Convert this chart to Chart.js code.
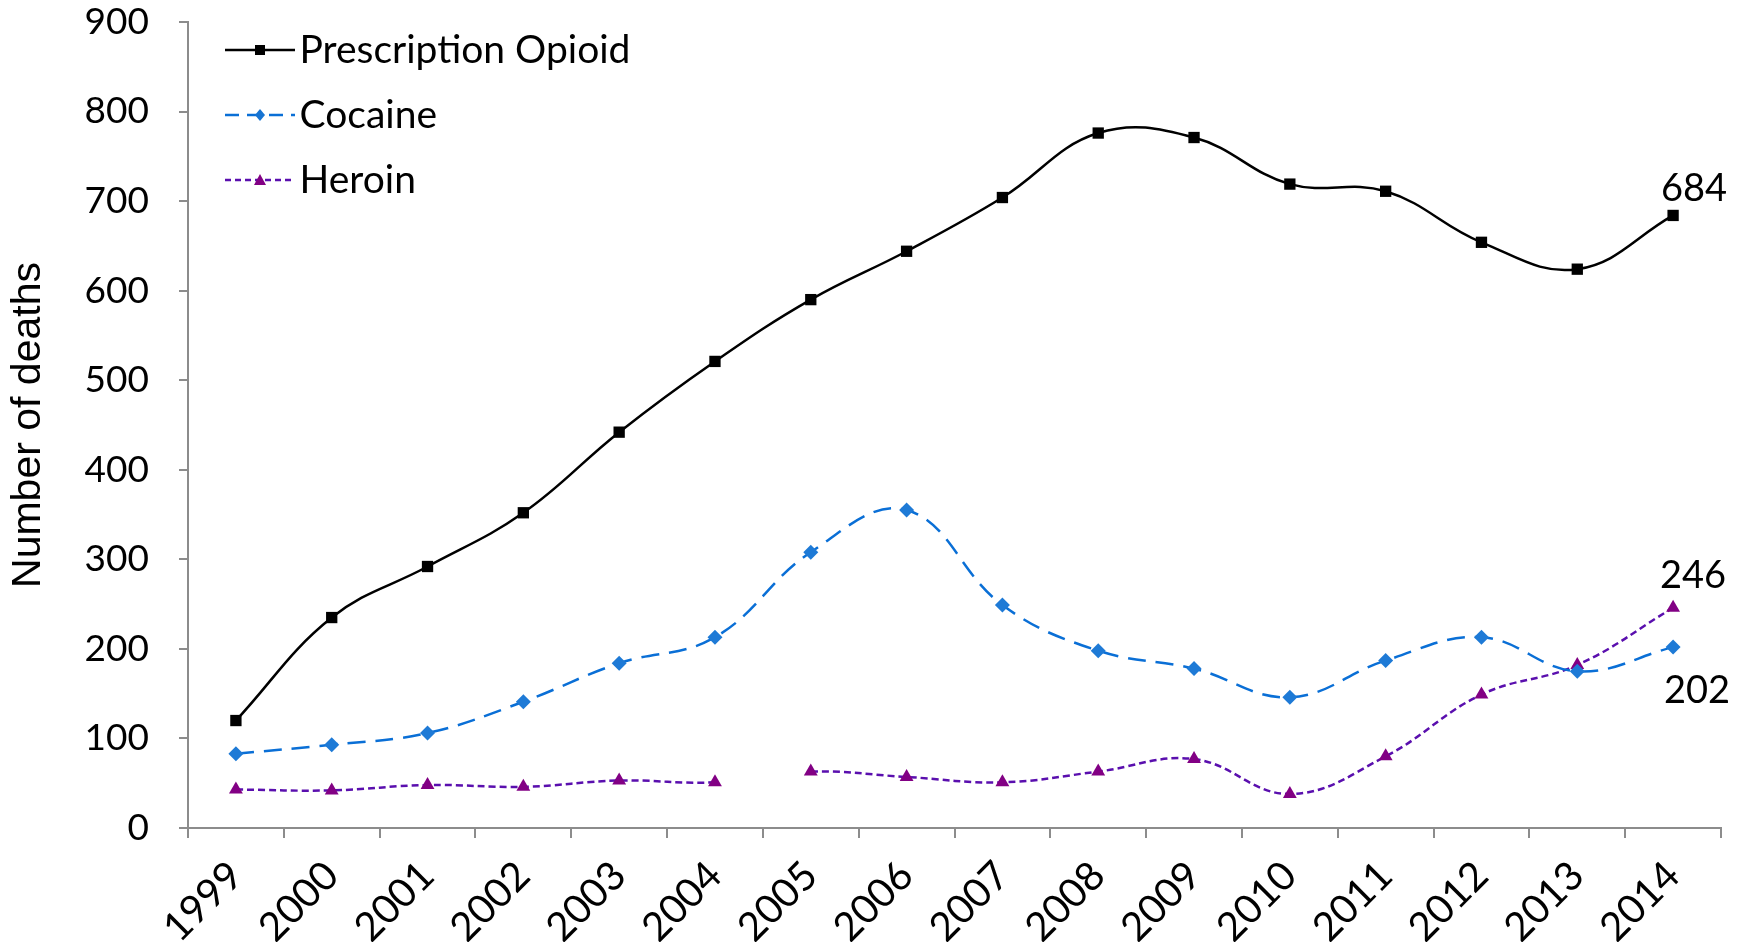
<!DOCTYPE html>
<html>
<head>
<meta charset="utf-8">
<title>Number of deaths, 1999-2014</title>
<script src="https://cdn.jsdelivr.net/npm/chart.js@4"></script>
<style>
  body { margin: 0; background: #fff; }
</style>
</head>
<body>
<canvas id="deathsChart" width="1738" height="942"></canvas>
<script>
const years = ['1999', '2000', '2001', '2002', '2003', '2004', '2005', '2006',
               '2007', '2008', '2009', '2010', '2011', '2012', '2013', '2014'];
const opioid  = [120, 235, 292, 352, 442, 521, 590, 644, 704, 776, 771, 719, 711, 654, 624, 684];
const cocaine = [83, 93, 106, 141, 184, 213, 308, 355, 249, 198, 178, 146, 187, 213, 175, 202];
const heroin  = [43, 42, 48, 46, 53, 51, 63, 57, 51, 63, 77, 38, 80, 149, 182, 246];
const yMax = 900;
const yStep = 100;
// heroin line is not drawn between 2004 and 2005
const heroinGapAfter = 5;

const font = 'Lato';

// legend sample: a bit of line with the marker in the middle
function legendSample(color, dash, width, marker) {
  const c = document.createElement('canvas');
  c.width = 96; c.height = 22;
  const g = c.getContext('2d');
  g.strokeStyle = color;
  g.lineWidth = width;
  g.setLineDash(dash);
  g.beginPath();
  g.moveTo(26, 11);
  g.lineTo(96, 11);
  g.stroke();
  g.setLineDash([]);
  marker(g, 61, 11);
  return c;
}

const samples = [
  legendSample('#000', [], 2.5, (g, x, y) => { g.fillStyle = '#000'; g.fillRect(x - 5, y - 5, 10, 10); }),
  legendSample('#0a6fd6', [14, 8], 2.5, (g, x, y) => {
    g.fillStyle = '#1774d2';
    g.beginPath(); g.moveTo(x, y - 6); g.lineTo(x + 5, y); g.lineTo(x, y + 6); g.lineTo(x - 5, y); g.fill();
  }),
  legendSample('#5a0fae', [6, 4], 2.5, (g, x, y) => {
    g.fillStyle = '#820084';
    g.beginPath(); g.moveTo(x, y - 6); g.lineTo(x + 6, y + 5); g.lineTo(x - 6, y + 5); g.fill();
  })
];

const endLabels = {
  id: 'endLabels',
  afterDatasetsDraw(chart) {
    const ctx = chart.ctx;
    const specs = [
      { ds: 0, dx: 21, dy: -14 },
      { ds: 2, dx: 20, dy: -20 },
      { ds: 1, dx: 24, dy: 56 }
    ];
    ctx.save();
    ctx.font = '38px ' + font;
    ctx.fillStyle = '#000';
    ctx.textAlign = 'center';
    ctx.textBaseline = 'alphabetic';
    specs.forEach(s => {
      const meta = chart.getDatasetMeta(s.ds);
      const last = meta.data.length - 1;
      const pt = meta.data[last];
      const value = chart.data.datasets[s.ds].data[last];
      ctx.fillText(String(value), pt.x + s.dx, pt.y + s.dy);
    });
    ctx.restore();
  }
};

new Chart(document.getElementById('deathsChart'), {
  type: 'line',
  data: {
    labels: years,
    datasets: [
      {
        label: 'Prescription Opioid',
        data: opioid,
        borderColor: '#000',
        backgroundColor: '#000',
        borderWidth: 2.5,
        tension: 0.4,
        pointStyle: 'rect',
        pointRadius: 8,
        pointBorderWidth: 0
      },
      {
        label: 'Cocaine',
        data: cocaine,
        borderColor: '#0a6fd6',
        backgroundColor: '#1e7ad6',
        borderWidth: 2.5,
        borderDash: [18, 10],
        tension: 0.4,
        pointStyle: 'rectRot',
        pointRadius: 7.5,
        pointBorderWidth: 0
      },
      {
        label: 'Heroin',
        data: heroin,
        borderColor: '#5a0fae',
        backgroundColor: '#820084',
        borderWidth: 2.5,
        borderDash: [7, 4],
        tension: 0.4,
        pointStyle: 'triangle',
        pointRadius: 8,
        pointBorderWidth: 0,
        segment: {
          borderColor: c => c.p0DataIndex === heroinGapAfter ? 'rgba(0,0,0,0)' : undefined
        }
      }
    ]
  },
  options: {
    responsive: false,
    animation: false,
    layout: {
      padding: { left: 0, top: 22, right: 17, bottom: 0 }
    },
    plugins: {
      legend: {
        position: 'chartArea',
        align: 'start',
        title: {
          display: true,
          text: ' ',
          padding: 0,
          font: { size: 4.5, lineHeight: 1 }
        },
        labels: {
          usePointStyle: true,
          pointStyleWidth: 66,
          padding: 26,
          color: '#000',
          font: { family: font, size: 39 },
          generateLabels(chart) {
            return chart.data.datasets.map((ds, i) => ({
              text: ds.label,
              pointStyle: samples[i],
              fillStyle: ds.backgroundColor,
              strokeStyle: ds.borderColor,
              lineWidth: 0,
              fontColor: '#000',
              hidden: false,
              datasetIndex: i
            }));
          }
        }
      },
      tooltip: { enabled: false }
    },
    scales: {
      x: {
        offset: true,
        grid: {
          offset: true,
          drawOnChartArea: false,
          drawTicks: true,
          tickLength: 10,
          color: '#8c8c8c',
          lineWidth: 2
        },
        border: { color: '#8c8c8c', width: 2 },
        ticks: {
          minRotation: 45,
          maxRotation: 45,
          padding: 14,
          color: '#000',
          font: { family: font, size: 40 }
        },
        afterFit(scale) { scale.height = 114; }
      },
      y: {
        min: 0,
        max: yMax,
        grid: {
          drawOnChartArea: false,
          drawTicks: true,
          tickLength: 9,
          color: '#8c8c8c',
          lineWidth: 2
        },
        border: { color: '#8c8c8c', width: 2 },
        ticks: {
          stepSize: yStep,
          padding: 30,
          color: '#000',
          font: { family: font, size: 37 }
        },
        title: {
          display: true,
          text: 'Number of deaths',
          color: '#000',
          padding: 4,
          font: { family: 'Liberation Sans', size: 41 }
        },
        afterFit(scale) {
          scale.width = 188;
          // tick padding would otherwise push the plot down
          scale.paddingTop = 22;
          scale.paddingBottom = 22;
        }
      }
    }
  },
  plugins: [endLabels]
});
</script>
</body>
</html>
